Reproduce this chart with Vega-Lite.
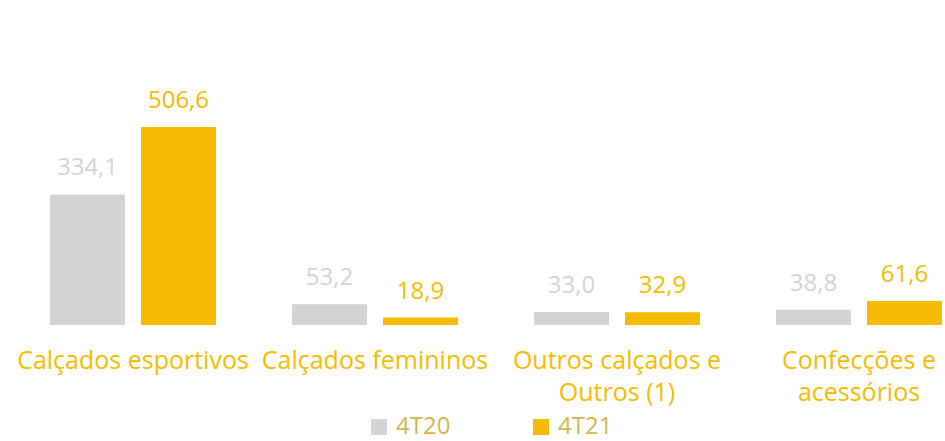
{
  "$schema": "https://vega.github.io/schema/vega-lite/v6.json",
  "autosize": "none",
  "padding": {"left": 0, "top": 0, "right": 0, "bottom": 116},
  "width": 945,
  "height": 325,
  "background": "white",
  "config": {"view": {"stroke": null}, "font": "Open Sans"},
  "data": {"values": [
    {"categoria": "Calçados esportivos", "periodo": "4T20", "valor": 334.1, "rotulo": "334,1"},
    {"categoria": "Calçados esportivos", "periodo": "4T21", "valor": 506.6, "rotulo": "506,6"},
    {"categoria": "Calçados femininos", "periodo": "4T20", "valor": 53.2, "rotulo": "53,2"},
    {"categoria": "Calçados femininos", "periodo": "4T21", "valor": 18.9, "rotulo": "18,9"},
    {"categoria": "Outros calçados e Outros (1)", "periodo": "4T20", "valor": 33.0, "rotulo": "33,0"},
    {"categoria": "Outros calçados e Outros (1)", "periodo": "4T21", "valor": 32.9, "rotulo": "32,9"},
    {"categoria": "Confecções e acessórios", "periodo": "4T20", "valor": 38.8, "rotulo": "38,8"},
    {"categoria": "Confecções e acessórios", "periodo": "4T21", "valor": 61.6, "rotulo": "61,6"}
  ]},
  "encoding": {
    "x": {
      "field": "categoria", "type": "nominal", "sort": null,
      "scale": {"range": [12, 980], "paddingInner": 0, "paddingOuter": 0},
      "axis": {
        "title": null, "domain": false, "ticks": false, "labelAngle": 0,
        "labelFontSize": 25, "labelColor": "#F5BB00", "labelPadding": 23,
        "labelLimit": 400, "labelLineHeight": 32, "labelBaseline": "top",
        "labelExpr": "datum.value == 'Outros calçados e Outros (1)' ? ['Outros calçados e', 'Outros (1)'] : datum.value == 'Confecções e acessórios' ? ['Confecções e', 'acessórios'] : datum.value"
      }
    },
    "xOffset": {
      "field": "periodo", "type": "nominal",
      "scale": {"paddingInner": 0.1758, "paddingOuter": 0.4176}
    },
    "y": {
      "field": "valor", "type": "quantitative",
      "scale": {"domain": [0, 831.6], "nice": false},
      "axis": null
    },
    "color": {
      "field": "periodo", "type": "nominal",
      "scale": {"domain": ["4T20", "4T21"], "range": ["#D3D3D3", "#F5BB00"]},
      "legend": {
        "title": null, "orient": "none", "direction": "horizontal",
        "legendX": 367, "legendY": 415, "symbolType": "square", "symbolSize": 256,
        "symbolStrokeWidth": 0, "labelFontSize": 24, "labelColor": "#D6B44C",
        "columnPadding": 78, "labelOffset": 5
      }
    }
  },
  "layer": [
    {"mark": {"type": "bar"}},
    {
      "mark": {"type": "text", "baseline": "bottom", "dy": -14, "fontSize": 24},
      "encoding": {
        "text": {"field": "rotulo"},
        "color": {
          "field": "periodo", "type": "nominal",
          "scale": {"domain": ["4T20", "4T21"], "range": ["#BABABA", "#F5BB00"]},
          "legend": null
        }
      }
    }
  ]
}
